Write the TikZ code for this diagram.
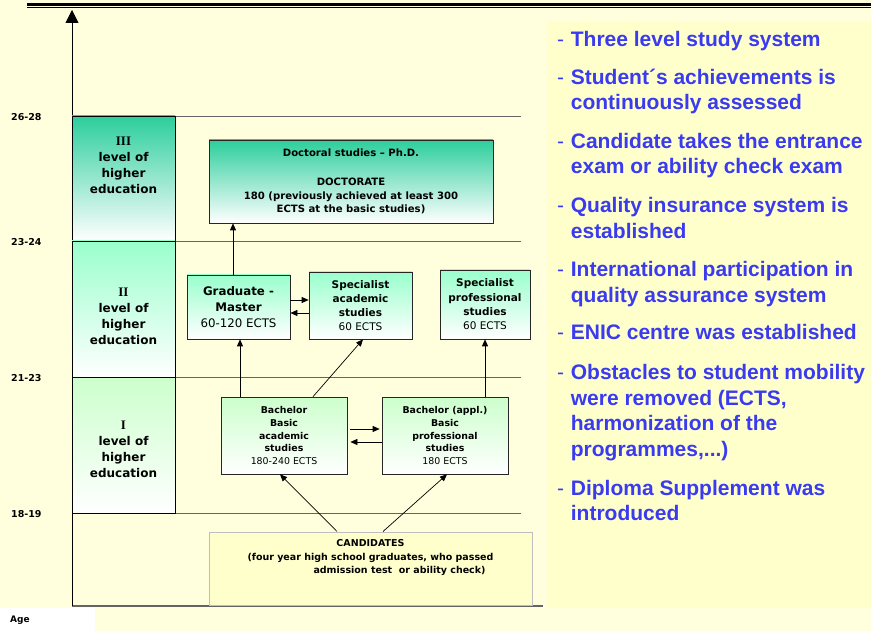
\documentclass[tikz,border=0pt]{standalone}
\usepackage{fontspec}
\setmainfont{DejaVu Sans}
\newfontfamily\notefont{Liberation Sans}
\newfontfamily\numeralfont{Liberation Serif}
\usepackage{xcolor}
\usepackage{tikz}
\usetikzlibrary{arrows.meta}
\usetikzlibrary{positioning}

\definecolor{slidebg}{RGB}{255,255,221}
\definecolor{notebg}{RGB}{255,255,204}
\definecolor{phdteal}{RGB}{44,206,156}
\definecolor{mastermint}{RGB}{153,255,204}
\definecolor{bachgreen}{RGB}{204,255,204}
\definecolor{rulegray}{RGB}{100,100,100}
\definecolor{noteblue}{RGB}{58,58,240}
\definecolor{candgray}{RGB}{190,190,190}

\newcommand{\levelno}[1]{{\numeralfont\bfseries\fontsize{13}{16}\selectfont #1}}

\begin{document}
\begin{tikzpicture}[x=1pt, y=-1pt,
        study/.style={draw=black!85, line width=0.7pt, bottom color=white, align=center, inner sep=1pt},
        levelcell/.style={draw=black, line width=0.8pt, bottom color=white, minimum width=103pt},
        leveltext/.style={font=\bfseries\fontsize{12}{16}\selectfont, align=center, inner sep=0pt},
        agerule/.style={draw=rulegray, line width=0.8pt},
        agelabel/.style={font=\bfseries\fontsize{9.5}{11}\selectfont, anchor=west, inner sep=0pt},
        flow/.style={-{Triangle[length=7pt,width=6pt]}, line width=0.7pt},
        remark/.style={anchor=base west, inner sep=0pt, text=noteblue,
            font=\notefont\bfseries\fontsize{21}{25.5}\selectfont}]

    \useasboundingbox (0,0) rectangle (871,631);
    \fill[slidebg] (0,0) rectangle (871,631);
    \fill[notebg] (547,21) rectangle (871,608);

    % double rule on top
    \draw[line width=2.7pt] (27,4.3) -- (871,4.3);
    \draw[line width=0.8pt] (27,7.2) -- (871,7.2);

    % age scale
    \foreach \yy/\age [count=\i] in {116/26-28, 241/23-24, 377/21-23, 513/18-19} {
        \draw[agerule] (72,\yy) -- (521,\yy);
        \node[agelabel] (age\i) at (11,\yy+1) {\age};
    }
    \draw[rulegray, line width=1.6pt] (72,606) -- (543,606);
    \draw[line width=0.8pt, -{Triangle[length=13pt,width=13pt]}] (72,606) -- (72,10);
    \node[fill=white, anchor=north west, minimum width=95pt, minimum height=23pt,
        text width=75pt, inner xsep=10pt, inner ysep=0pt, align=left,
        font=\bfseries\fontsize{9}{11}\selectfont] (agebox) at (0,608) {Age};

    % levels
    \node[levelcell, top color=phdteal, minimum height=125pt] (levelIII) at (123.5,178.5) {};
    \node[levelcell, top color=mastermint, minimum height=136pt] (levelII) at (123.5,309) {};
    \node[levelcell, top color=bachgreen, minimum height=136pt] (levelI) at (123.5,445) {};
    \node[leveltext] (textIII) at (123.5,165.5) {\levelno{III}\\level of\\higher\\education};
    \node[leveltext] (textII) at (123.5,316) {\levelno{II}\\level of\\higher\\education};
    \node[leveltext] (textI) at (123.5,449) {\levelno{I}\\level of\\higher\\education};

    % studies
    \node[study, top color=phdteal, minimum width=284pt, minimum height=83pt,
        font=\bfseries\fontsize{10.1}{13.5}\selectfont] (phd) at (351,181.5)
        {Doctoral studies – Ph.D.\\[15.5pt]DOCTORATE\\180 (previously achieved at least 300\\ECTS at the basic studies)};
    \node[study, top color=mastermint, minimum width=103pt, minimum height=64pt,
        font=\bfseries\fontsize{11.8}{16}\selectfont] (master) at (238.5,307)
        {Graduate -\\Master\\{\mdseries 60-120 ECTS}};
    \node[study, top color=mastermint, minimum width=103pt, minimum height=67pt,
        font=\bfseries\fontsize{10.5}{14}\selectfont] (specacad) at (360.5,305.5)
        {Specialist\\academic\\studies\\{\mdseries 60 ECTS}};
    \node[study, top color=mastermint, minimum width=90pt, minimum height=69pt,
        font=\bfseries\fontsize{10.5}{14.3}\selectfont] (specprof) at (485,304.5)
        {Specialist\\professional\\studies\\{\mdseries 60 ECTS}};
    \node[study, top color=bachgreen, minimum width=126pt, minimum height=77pt,
        font=\bfseries\fontsize{9.4}{12.7}\selectfont] (bachacad) at (284,435.5)
        {Bachelor\\Basic\\academic\\studies\\{\mdseries 180-240 ECTS}};
    \node[study, top color=bachgreen, minimum width=126pt, minimum height=77pt,
        font=\bfseries\fontsize{9.4}{12.7}\selectfont] (bachprof) at (445,435.5)
        {Bachelor (appl.)\\Basic\\professional\\studies\\{\mdseries 180 ECTS}};
    \node[draw=candgray, fill=notebg, line width=1pt, minimum width=323pt, minimum height=73pt] (cand) at (370.5,568.5) {};
    \node[font=\bfseries\fontsize{9.5}{13.5}\selectfont, align=center, anchor=north, inner sep=0pt] (candtext) at (370.5,539.5)
        {CANDIDATES\\(four year high school graduates, who passed\\\hspace*{58pt}admission test~ or ability check)};

    % paths between studies
    \draw[flow] ([xshift=-5.5pt]master.north) -- ([xshift=-5.5pt]master.north |- phd.south);
    \draw[flow] ([xshift=1.5pt]master.south |- bachacad.north) -- ([xshift=1.5pt]master.south);
    \draw[flow] ([xshift=29pt]bachacad.north) -- ([xshift=2.5pt]specacad.south);
    \draw[flow] (specprof.south |- bachprof.north) -- (specprof.south);
    \draw[flow] ([yshift=7pt]master.east) -- ([yshift=7pt]master.east -| specacad.west);
    \draw[flow] ([yshift=-7.5pt]specacad.west) -- ([yshift=-7.5pt]specacad.west -| master.east);
    \draw[flow] ([xshift=3pt,yshift=6.5pt]bachacad.east) -- ([xshift=-2pt,yshift=6.5pt]bachprof.west);
    \draw[flow] ([yshift=-6.5pt]bachprof.west) -- ([xshift=3pt,yshift=-6.5pt]bachacad.east);
    \draw[flow] ([xshift=-33.5pt]cand.north) -- ([xshift=-4pt]bachacad.south);
    \draw[flow] ([xshift=12.5pt]cand.north) -- ([xshift=2pt]bachprof.south);

    % remarks
    \node[remark] (remark1) at (557,46.7) {\makebox[13.7pt][l]{\mdseries -}\begin{tabular}[t]{@{}l@{}}Three level study system\end{tabular}};
    \node[remark] (remark2) at (557,84.3) {\makebox[13.7pt][l]{\mdseries -}\begin{tabular}[t]{@{}l@{}}Student´s achievements is\\continuously assessed\end{tabular}};
    \node[remark] (remark3) at (557,148.3) {\makebox[13.7pt][l]{\mdseries -}\begin{tabular}[t]{@{}l@{}}Candidate takes the entrance\\exam or ability check exam\end{tabular}};
    \node[remark] (remark4) at (557,212.7) {\makebox[13.7pt][l]{\mdseries -}\begin{tabular}[t]{@{}l@{}}Quality insurance system is\\established\end{tabular}};
    \node[remark] (remark5) at (557,276.7) {\makebox[13.7pt][l]{\mdseries -}\begin{tabular}[t]{@{}l@{}}International participation in\\quality assurance system\end{tabular}};
    \node[remark] (remark6) at (557,340) {\makebox[13.7pt][l]{\mdseries -}\begin{tabular}[t]{@{}l@{}}ENIC centre was established\end{tabular}};
    \node[remark] (remark7) at (557,380) {\makebox[13.7pt][l]{\mdseries -}\begin{tabular}[t]{@{}l@{}}Obstacles to student mobility\\were removed (ECTS,\\harmonization of the\\programmes,...)\end{tabular}};
    \node[remark] (remark8) at (557,495) {\makebox[13.7pt][l]{\mdseries -}\begin{tabular}[t]{@{}l@{}}Diploma Supplement was\\introduced\end{tabular}};
\end{tikzpicture}
\end{document}
